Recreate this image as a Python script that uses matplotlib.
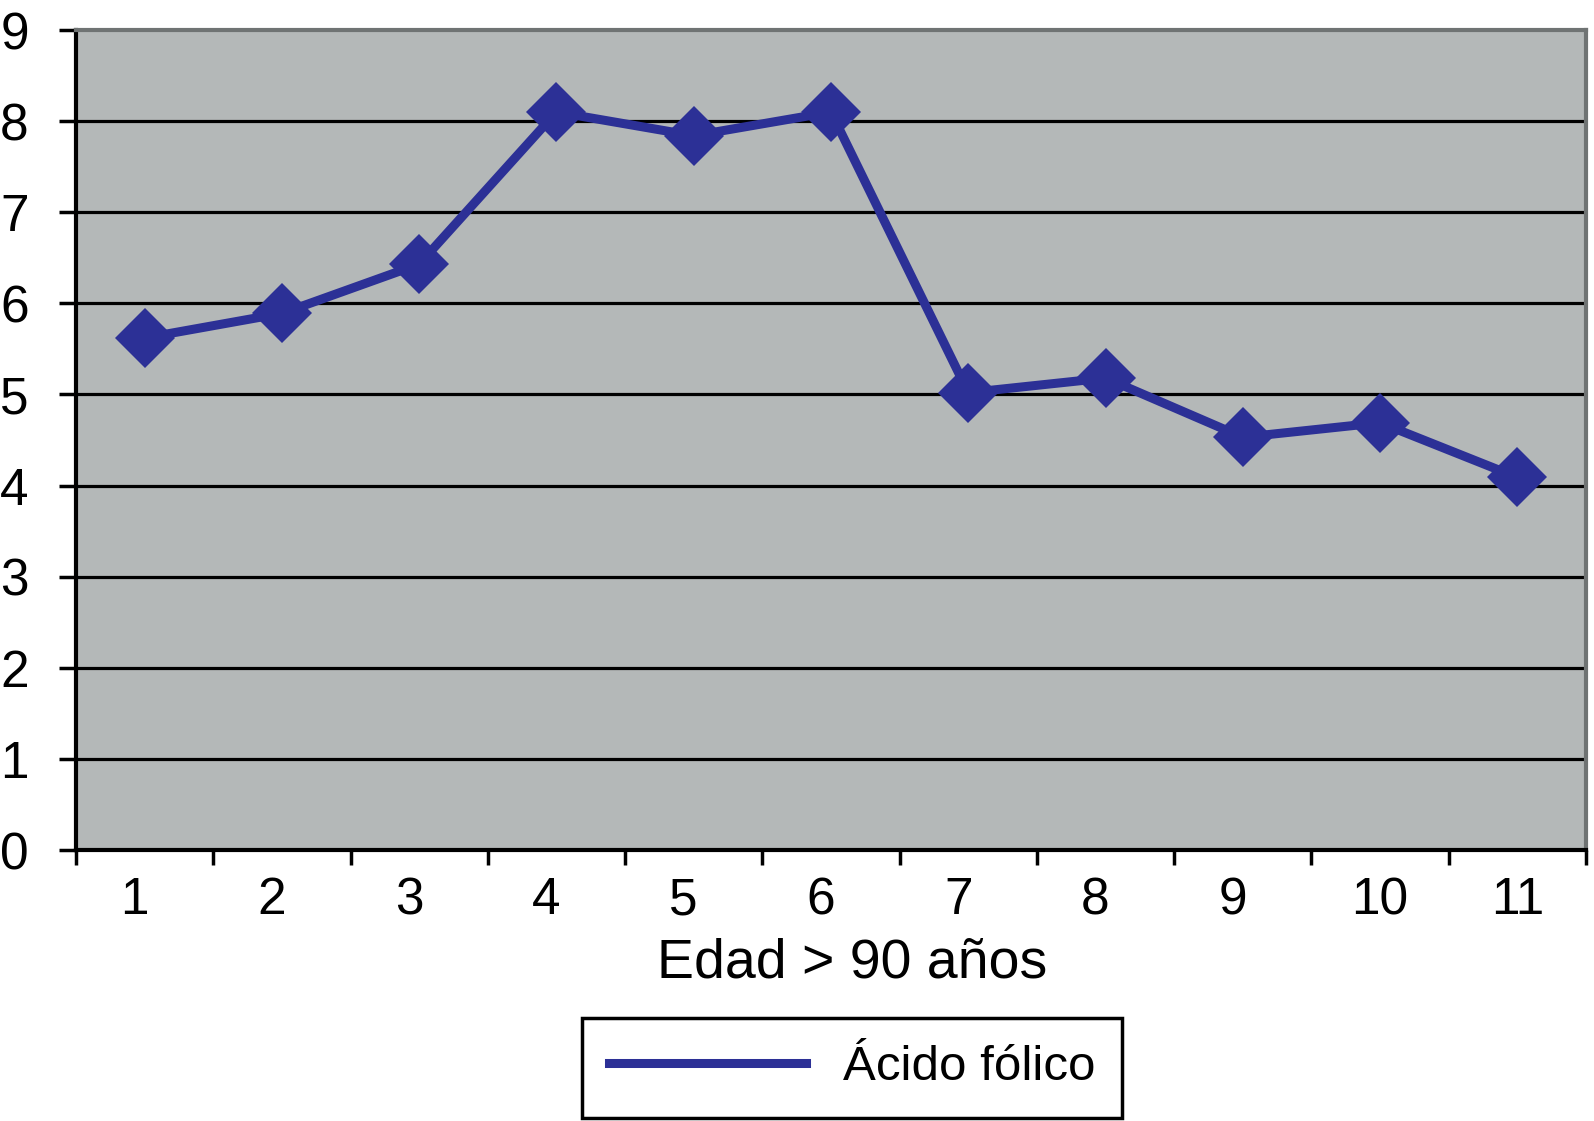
import matplotlib
matplotlib.use("Agg")
import matplotlib.pyplot as plt
import matplotlib.transforms as mtransforms
from matplotlib.lines import Line2D

# datos
edad = [1, 2, 3, 4, 5, 6, 7, 8, 9, 10, 11]
acido_folico = [5.62, 5.89, 6.43, 8.10, 7.84, 8.10, 5.02, 5.18, 4.53, 4.69, 4.09]
y_ticks = [0, 1, 2, 3, 4, 5, 6, 7, 8, 9]

azul = '#2c3096'
gris_fondo = '#b4b8b8'
gris_borde = '#6f7373'

plt.rcParams['font.family'] = ['Liberation Sans', 'DejaVu Sans']

fig = plt.figure(figsize=(15.94, 11.21), dpi=100)
ax = fig.add_axes([76 / 1594, 1 - 850 / 1121, (1586 - 76) / 1594, (850 - 30) / 1121])
ax.set_facecolor(gris_fondo)

# lineas horizontales de la cuadricula
for v in y_ticks[1:-1]:
    ax.axhline(v, color='black', lw=2.3, zorder=1)

ax.plot(edad, acido_folico, color=azul, lw=6.5, marker='D', markersize=31,
        markeredgewidth=0, zorder=3)

ax.set_xlim(0.5, 11.5)
ax.set_ylim(0, 9)

# ticks del eje x en los limites de cada categoria, etiquetas en el centro
ax.set_xticks([i + 0.5 for i in range(0, 12)])
ax.set_xticklabels([])
ax.set_xticks(edad, minor=True)
ax.set_xticklabels([str(e) for e in edad], minor=True)
ax.tick_params(axis='x', which='major', length=11, width=2.5, direction='out', color='black')
ax.tick_params(axis='x', which='minor', length=0, pad=19, labelsize=37)
ax.set_yticks(y_ticks)
ax.set_yticklabels([str(v) for v in y_ticks])
ax.tick_params(axis='y', length=12, width=2.5, direction='out', pad=22, labelsize=37)

# las etiquetas de un digito quedan un poco a la izquierda en el original
for lab in ax.get_xticklabels(minor=True):
    if len(lab.get_text()) == 1:
        lab.set_transform(lab.get_transform() +
                          mtransforms.ScaledTranslation(-10 / 100, 0, fig.dpi_scale_trans))

for lado in ['left', 'bottom']:
    ax.spines[lado].set_color('black')
    ax.spines[lado].set_linewidth(3)
for lado in ['top', 'right']:
    ax.spines[lado].set_color(gris_borde)
    ax.spines[lado].set_linewidth(3)

fig.text(852 / 1594, 1 - 964 / 1121, 'Edad > 90 años', ha='center', va='center', fontsize=40)

handle = Line2D([], [], color=azul, lw=6.5)
leg = fig.legend(handles=[handle], labels=['Ácido fólico'], loc='center',
                 bbox_to_anchor=(852 / 1594, 1 - 1068 / 1121), fontsize=35.5,
                 frameon=True, fancybox=False, framealpha=1, edgecolor='black',
                 handlelength=4.0, handletextpad=0.75, borderpad=0.55)
leg.get_frame().set_linewidth(2.5)

fig.savefig('out.png', dpi=100)
